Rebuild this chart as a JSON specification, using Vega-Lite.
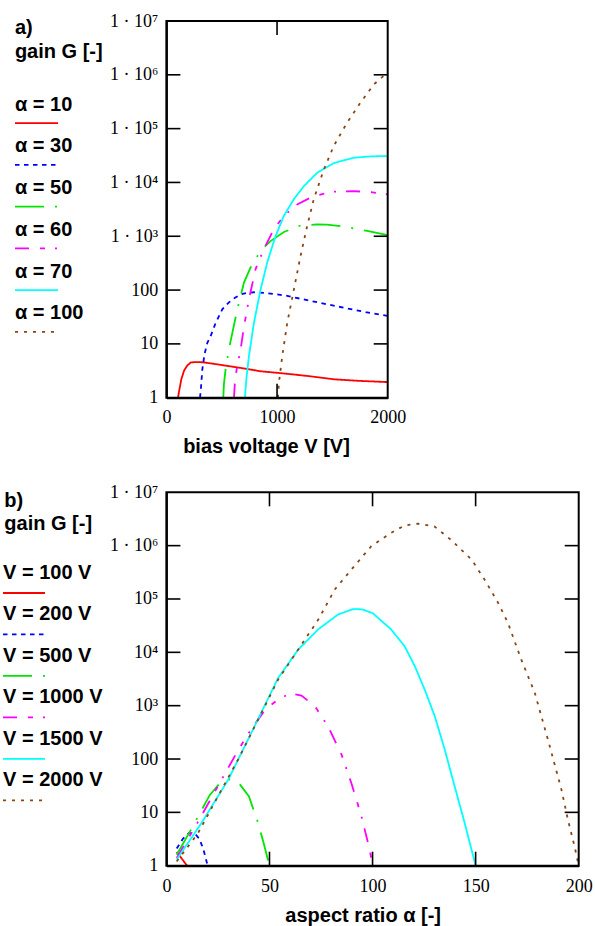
{
"$schema": "https://vega.github.io/schema/vega-lite/v6.json",
"background": "white",
"padding": {"left": 2, "top": 12, "right": 2, "bottom": 1},
"bounds": "flush",
"columns": 2,
"spacing": {"row": 94.3, "column": 103.4},
"resolve": {"scale": {"x": "independent", "y": "independent", "color": "independent", "strokeDash": "independent"}},
"config": {
  "view": {"stroke": null},
  "axis": {"grid": false, "domainColor": "black", "domainWidth": 2, "ticks": false, "labelFont": "Liberation Serif", "labelFontSize": 18, "labelColor": "black", "labelFlush": false, "labelOverlap": false, "titleFont": "Liberation Sans", "titleFontSize": 20, "titleFontWeight": "bold", "titleColor": "black"}
},
"datasets": {
  "legA": [{"series": "α = 10"}, {"series": "α = 30"}, {"series": "α = 50"}, {"series": "α = 60"}, {"series": "α = 70"}, {"series": "α = 100"}],
  "legB": [{"series": "V = 100 V"}, {"series": "V = 200 V"}, {"series": "V = 500 V"}, {"series": "V = 1000 V"}, {"series": "V = 1500 V"}, {"series": "V = 2000 V"}],
  "decades": [{"G": 10}, {"G": 100}, {"G": 1000}, {"G": 10000}, {"G": 100000}, {"G": 1000000}],
  "ticksAx": [{"V": 1000, "Gtop": 9999990, "Gbottom": 1}],
  "ticksBx": [{"alpha": 50, "Gtop": 9999990, "Gbottom": 1}, {"alpha": 100, "Gtop": 9999990, "Gbottom": 1}, {"alpha": 150, "Gtop": 9999990, "Gbottom": 1}],
  "boxA": [{"V0": 0, "V1": 2000, "G0": 1, "G1": 9999990}],
  "boxB": [{"a0": 0, "a1": 200, "G0": 1, "G1": 9999990}],
  "a": [
    {"series": "α = 10", "V": 105, "G": 1}, {"series": "α = 10", "V": 114, "G": 1.3}, {"series": "α = 10", "V": 135, "G": 2.2}, {"series": "α = 10", "V": 160, "G": 3.2}, {"series": "α = 10", "V": 190, "G": 4.0}, {"series": "α = 10", "V": 220, "G": 4.5}, {"series": "α = 10", "V": 260, "G": 4.6}, {"series": "α = 10", "V": 330, "G": 4.55}, {"series": "α = 10", "V": 450, "G": 4.2}, {"series": "α = 10", "V": 550, "G": 3.9}, {"series": "α = 10", "V": 700, "G": 3.5}, {"series": "α = 10", "V": 851, "G": 3.1}, {"series": "α = 10", "V": 1000, "G": 2.9}, {"series": "α = 10", "V": 1152, "G": 2.7}, {"series": "α = 10", "V": 1300, "G": 2.5}, {"series": "α = 10", "V": 1513, "G": 2.2}, {"series": "α = 10", "V": 1750, "G": 2.05}, {"series": "α = 10", "V": 2000, "G": 1.95},
    {"series": "α = 30", "V": 304, "G": 1}, {"series": "α = 30", "V": 312, "G": 1.5}, {"series": "α = 30", "V": 325, "G": 3.4}, {"series": "α = 30", "V": 345, "G": 6.5}, {"series": "α = 30", "V": 370, "G": 10.5}, {"series": "α = 30", "V": 400, "G": 14}, {"series": "α = 30", "V": 445, "G": 24.5}, {"series": "α = 30", "V": 505, "G": 44}, {"series": "α = 30", "V": 565, "G": 59}, {"series": "α = 30", "V": 620, "G": 72}, {"series": "α = 30", "V": 670, "G": 83}, {"series": "α = 30", "V": 730, "G": 89}, {"series": "α = 30", "V": 791, "G": 91}, {"series": "α = 30", "V": 881, "G": 89}, {"series": "α = 30", "V": 1000, "G": 83}, {"series": "α = 30", "V": 1092, "G": 78}, {"series": "α = 30", "V": 1302, "G": 63}, {"series": "α = 30", "V": 1603, "G": 47}, {"series": "α = 30", "V": 1800, "G": 39}, {"series": "α = 30", "V": 2000, "G": 33},
    {"series": "α = 50", "V": 514, "G": 1}, {"series": "α = 50", "V": 520, "G": 1.8}, {"series": "α = 50", "V": 535, "G": 3.4}, {"series": "α = 50", "V": 565, "G": 8}, {"series": "α = 50", "V": 596, "G": 16}, {"series": "α = 50", "V": 641, "G": 44}, {"series": "α = 50", "V": 701, "G": 138}, {"series": "α = 50", "V": 761, "G": 263}, {"series": "α = 50", "V": 851, "G": 537}, {"series": "α = 50", "V": 941, "G": 813}, {"series": "α = 50", "V": 1062, "G": 1200}, {"series": "α = 50", "V": 1212, "G": 1585}, {"series": "α = 50", "V": 1362, "G": 1660}, {"series": "α = 50", "V": 1450, "G": 1650}, {"series": "α = 50", "V": 1603, "G": 1510}, {"series": "α = 50", "V": 1814, "G": 1260}, {"series": "α = 50", "V": 2000, "G": 1050},
    {"series": "α = 60", "V": 611, "G": 1}, {"series": "α = 60", "V": 618, "G": 1.8}, {"series": "α = 60", "V": 635, "G": 3.4}, {"series": "α = 60", "V": 671, "G": 8}, {"series": "α = 60", "V": 701, "G": 21}, {"series": "α = 60", "V": 746, "G": 68}, {"series": "α = 60", "V": 806, "G": 245}, {"series": "α = 60", "V": 881, "G": 575}, {"series": "α = 60", "V": 971, "G": 1350}, {"series": "α = 60", "V": 1062, "G": 2400}, {"series": "α = 60", "V": 1182, "G": 3900}, {"series": "α = 60", "V": 1332, "G": 5600}, {"series": "α = 60", "V": 1513, "G": 6760}, {"series": "α = 60", "V": 1693, "G": 6900}, {"series": "α = 60", "V": 1850, "G": 6600}, {"series": "α = 60", "V": 2000, "G": 6000},
    {"series": "α = 70", "V": 710, "G": 1}, {"series": "α = 70", "V": 716, "G": 1.5}, {"series": "α = 70", "V": 725, "G": 2.5}, {"series": "α = 70", "V": 746, "G": 5.9}, {"series": "α = 70", "V": 791, "G": 24.5}, {"series": "α = 70", "V": 851, "G": 102}, {"series": "α = 70", "V": 911, "G": 324}, {"series": "α = 70", "V": 986, "G": 1000}, {"series": "α = 70", "V": 1062, "G": 2400}, {"series": "α = 70", "V": 1152, "G": 4900}, {"series": "α = 70", "V": 1242, "G": 8500}, {"series": "α = 70", "V": 1362, "G": 15100}, {"series": "α = 70", "V": 1513, "G": 22900}, {"series": "α = 70", "V": 1693, "G": 28800}, {"series": "α = 70", "V": 1850, "G": 30500}, {"series": "α = 70", "V": 2000, "G": 31000},
    {"series": "α = 100", "V": 1008, "G": 1}, {"series": "α = 100", "V": 1017, "G": 1.9}, {"series": "α = 100", "V": 1047, "G": 5.9}, {"series": "α = 100", "V": 1092, "G": 24.5}, {"series": "α = 100", "V": 1152, "G": 102}, {"series": "α = 100", "V": 1212, "G": 427}, {"series": "α = 100", "V": 1272, "G": 1550}, {"series": "α = 100", "V": 1332, "G": 4900}, {"series": "α = 100", "V": 1423, "G": 17400}, {"series": "α = 100", "V": 1513, "G": 47900}, {"series": "α = 100", "V": 1633, "G": 129000}, {"series": "α = 100", "V": 1753, "G": 302000}, {"series": "α = 100", "V": 1874, "G": 661000}, {"series": "α = 100", "V": 1979, "G": 1020000}, {"series": "α = 100", "V": 2000, "G": 1050000}
  ],
  "b": [
    {"series": "V = 100 V", "alpha": 5, "G": 1.8}, {"series": "V = 100 V", "alpha": 7.5, "G": 1.35}, {"series": "V = 100 V", "alpha": 10, "G": 1},
    {"series": "V = 200 V", "alpha": 5, "G": 2.1}, {"series": "V = 200 V", "alpha": 8, "G": 3.2}, {"series": "V = 200 V", "alpha": 11, "G": 4.1}, {"series": "V = 200 V", "alpha": 14, "G": 3.9}, {"series": "V = 200 V", "alpha": 16, "G": 3.2}, {"series": "V = 200 V", "alpha": 18, "G": 2.0}, {"series": "V = 200 V", "alpha": 20, "G": 1},
    {"series": "V = 500 V", "alpha": 5, "G": 1.6}, {"series": "V = 500 V", "alpha": 12, "G": 4.8}, {"series": "V = 500 V", "alpha": 21, "G": 21}, {"series": "V = 500 V", "alpha": 25, "G": 32}, {"series": "V = 500 V", "alpha": 30, "G": 42}, {"series": "V = 500 V", "alpha": 35, "G": 36}, {"series": "V = 500 V", "alpha": 40, "G": 20}, {"series": "V = 500 V", "alpha": 44.5, "G": 6.3}, {"series": "V = 500 V", "alpha": 47, "G": 2.8}, {"series": "V = 500 V", "alpha": 50, "G": 1},
    {"series": "V = 1000 V", "alpha": 5, "G": 1.4}, {"series": "V = 1000 V", "alpha": 15, "G": 6.3}, {"series": "V = 1000 V", "alpha": 25, "G": 31}, {"series": "V = 1000 V", "alpha": 35, "G": 151}, {"series": "V = 1000 V", "alpha": 41, "G": 355}, {"series": "V = 1000 V", "alpha": 48, "G": 850}, {"series": "V = 1000 V", "alpha": 54, "G": 1290}, {"series": "V = 1000 V", "alpha": 60, "G": 1700}, {"series": "V = 1000 V", "alpha": 65.5, "G": 1550}, {"series": "V = 1000 V", "alpha": 72, "G": 980}, {"series": "V = 1000 V", "alpha": 78.4, "G": 410}, {"series": "V = 1000 V", "alpha": 85, "G": 120}, {"series": "V = 1000 V", "alpha": 89.7, "G": 35.5}, {"series": "V = 1000 V", "alpha": 94.6, "G": 8.5}, {"series": "V = 1000 V", "alpha": 98.6, "G": 2}, {"series": "V = 1000 V", "alpha": 100, "G": 1},
    {"series": "V = 1500 V", "alpha": 5, "G": 1.3}, {"series": "V = 1500 V", "alpha": 17, "G": 6.3}, {"series": "V = 1500 V", "alpha": 30, "G": 41}, {"series": "V = 1500 V", "alpha": 41.2, "G": 309}, {"series": "V = 1500 V", "alpha": 54.2, "G": 3300}, {"series": "V = 1500 V", "alpha": 63.9, "G": 11200}, {"series": "V = 1500 V", "alpha": 73.6, "G": 26900}, {"series": "V = 1500 V", "alpha": 83.3, "G": 51300}, {"series": "V = 1500 V", "alpha": 90.5, "G": 64600}, {"series": "V = 1500 V", "alpha": 95, "G": 64000}, {"series": "V = 1500 V", "alpha": 100.2, "G": 53700}, {"series": "V = 1500 V", "alpha": 109, "G": 26900}, {"series": "V = 1500 V", "alpha": 115.6, "G": 12900}, {"series": "V = 1500 V", "alpha": 120.5, "G": 5500}, {"series": "V = 1500 V", "alpha": 125.3, "G": 2000}, {"series": "V = 1500 V", "alpha": 130.2, "G": 630}, {"series": "V = 1500 V", "alpha": 135, "G": 151}, {"series": "V = 1500 V", "alpha": 139.8, "G": 31}, {"series": "V = 1500 V", "alpha": 144.7, "G": 6.3}, {"series": "V = 1500 V", "alpha": 148, "G": 2}, {"series": "V = 1500 V", "alpha": 150, "G": 1},
    {"series": "V = 2000 V", "alpha": 5, "G": 1.2}, {"series": "V = 2000 V", "alpha": 15.4, "G": 4.1}, {"series": "V = 2000 V", "alpha": 25, "G": 20}, {"series": "V = 2000 V", "alpha": 34.8, "G": 98}, {"series": "V = 2000 V", "alpha": 44.5, "G": 550}, {"series": "V = 2000 V", "alpha": 54.2, "G": 3090}, {"series": "V = 2000 V", "alpha": 63.9, "G": 11200}, {"series": "V = 2000 V", "alpha": 73.6, "G": 40700}, {"series": "V = 2000 V", "alpha": 81.7, "G": 151000}, {"series": "V = 2000 V", "alpha": 89.7, "G": 355000}, {"series": "V = 2000 V", "alpha": 99.4, "G": 977000}, {"series": "V = 2000 V", "alpha": 109, "G": 1740000}, {"series": "V = 2000 V", "alpha": 115.6, "G": 2400000}, {"series": "V = 2000 V", "alpha": 122, "G": 2570000}, {"series": "V = 2000 V", "alpha": 130, "G": 2290000}, {"series": "V = 2000 V", "alpha": 138, "G": 1290000}, {"series": "V = 2000 V", "alpha": 148, "G": 550000}, {"series": "V = 2000 V", "alpha": 154.4, "G": 229000}, {"series": "V = 2000 V", "alpha": 160.9, "G": 85000}, {"series": "V = 2000 V", "alpha": 165.7, "G": 35500}, {"series": "V = 2000 V", "alpha": 172.2, "G": 7200}, {"series": "V = 2000 V", "alpha": 178.7, "G": 1740}, {"series": "V = 2000 V", "alpha": 185.1, "G": 229}, {"series": "V = 2000 V", "alpha": 191.6, "G": 27}, {"series": "V = 2000 V", "alpha": 194.8, "G": 7.2}, {"series": "V = 2000 V", "alpha": 198, "G": 2.3}, {"series": "V = 2000 V", "alpha": 200, "G": 1}
  ]
},
"concat": [
  {
    "width": 60, "height": 376.7,
    "data": {"name": "legA"},
    "layer": [
      {"mark": {"type": "text", "align": "left", "baseline": "alphabetic", "font": "Liberation Sans", "fontSize": 20, "fontWeight": "bold", "color": "black"},
       "encoding": {
         "x": {"datum": 12, "type": "quantitative", "scale": {"domain": [0, 60], "nice": false, "zero": false}, "axis": null},
         "y": {"field": "series", "type": "nominal", "scale": {"type": "point", "padding": 0, "domain": ["α = 10", "α = 30", "α = 50", "α = 60", "α = 70", "α = 100"], "range": [89.7, 298.4]}, "axis": null},
         "text": {"field": "series"}
       }},
      {"mark": {"type": "rule", "strokeWidth": 1.8, "yOffset": 12.5},
       "encoding": {
         "x": {"datum": 12, "type": "quantitative", "axis": null},
         "x2": {"datum": 55},
         "y": {"field": "series", "type": "nominal", "axis": null},
         "color": {"field": "series", "type": "nominal", "legend": null, "scale": {"domain": ["α = 10", "α = 30", "α = 50", "α = 60", "α = 70", "α = 100"], "range": ["#ff0000", "#0000ff", "#00e600", "#ff00ff", "#00ffff", "#8b4513"]}},
         "strokeDash": {"field": "series", "type": "nominal", "legend": null, "scale": {"domain": ["α = 10", "α = 30", "α = 50", "α = 60", "α = 70", "α = 100"], "range": [[1, 0], [4.5, 4.5], [29, 11, 2, 11], [14, 11, 5, 10, 2, 10], [1, 0], [3, 6]]}}
       }}
    ]
  },
  {
    "width": 221.3, "height": 376.7,
    "layer": [
      {"data": {"name": "a"},
       "mark": {"type": "line", "strokeWidth": 1.8},
       "encoding": {
         "x": {"field": "V", "type": "quantitative", "scale": {"domain": [0, 2000], "nice": false, "zero": false},
               "axis": {"orient": "bottom", "values": [0, 1000, 2000], "format": "d", "title": "bias voltage V [V]", "titleX": 99.6, "titleY": 55, "titleBaseline": "alphabetic", "titleAlign": "center", "labelPadding": 25, "labelBaseline": "alphabetic", "labelDx": 3, "labelFont": "Liberation Serif", "labelFontSize": 18}},
         "y": {"field": "G", "type": "quantitative", "scale": {"type": "log", "domain": [1, 10000000], "nice": false},
               "axis": {"orient": "left", "values": [1, 10, 100, 1000, 10000, 100000, 1000000, 10000000],
                        "labelExpr": "datum.value > 5e6 ? '1 · 10⁷\u00a0\u00a0' : datum.value > 5e5 ? '1 · 10⁶\u00a0\u00a0' : datum.value > 5e4 ? '1 · 10⁵\u00a0\u00a0' : datum.value > 5e3 ? '1 · 10⁴\u00a0\u00a0' : datum.value > 500 ? '1 · 10³\u00a0\u00a0' : datum.value > 50 ? '100' : datum.value > 5 ? '10' : '1'",
                        "title": ["a)", "gain G [-]"], "titleAngle": 0, "titleX": -152, "titleY": 12.4, "titleAlign": "left", "titleBaseline": "alphabetic", "titleLineHeight": 24.3,
                        "labelPadding": 8.7, "labelBaseline": "middle", "labelAlign": "right", "labelDy": 2.5, "labelFont": "Liberation Serif", "labelFontSize": 18}},
         "color": {"field": "series", "type": "nominal", "legend": null, "scale": {"domain": ["α = 10", "α = 30", "α = 50", "α = 60", "α = 70", "α = 100"], "range": ["#ff0000", "#0000ff", "#00e600", "#ff00ff", "#00ffff", "#8b4513"]}},
         "strokeDash": {"field": "series", "type": "nominal", "legend": null, "scale": {"domain": ["α = 10", "α = 30", "α = 50", "α = 60", "α = 70", "α = 100"], "range": [[1, 0], [4.5, 4.5], [29, 11, 2, 11], [14, 11, 5, 10, 2, 10], [1, 0], [3, 6]]}}
       }},
      {"data": {"name": "boxA"},
       "mark": {"type": "rect", "fill": null, "fillOpacity": 0, "stroke": "black", "strokeWidth": 2},
       "encoding": {"x": {"field": "V0", "type": "quantitative"}, "x2": {"field": "V1"}, "y": {"field": "G0", "type": "quantitative"}, "y2": {"field": "G1"}}},
      {"data": {"name": "decades"},
       "mark": {"type": "rule", "color": "black", "strokeWidth": 1.6, "x2Offset": 14},
       "encoding": {"y": {"field": "G", "type": "quantitative"}, "x": {"datum": 0, "type": "quantitative"}, "x2": {"datum": 0}}},
      {"data": {"name": "decades"},
       "mark": {"type": "rule", "color": "black", "strokeWidth": 1.6, "x2Offset": -14},
       "encoding": {"y": {"field": "G", "type": "quantitative"}, "x": {"datum": 2000, "type": "quantitative"}, "x2": {"datum": 2000}}},
      {"data": {"name": "ticksAx"},
       "mark": {"type": "rule", "color": "black", "strokeWidth": 1.6, "y2Offset": 14},
       "encoding": {"x": {"field": "V", "type": "quantitative"}, "y": {"field": "Gtop", "type": "quantitative"}, "y2": {"field": "Gtop"}}},
      {"data": {"name": "ticksAx"},
       "mark": {"type": "rule", "color": "black", "strokeWidth": 1.6, "y2Offset": -14},
       "encoding": {"x": {"field": "V", "type": "quantitative"}, "y": {"field": "Gbottom", "type": "quantitative"}, "y2": {"field": "Gbottom"}}}
    ]
  },
  {
    "width": 60, "height": 373.4,
    "data": {"name": "legB"},
    "layer": [
      {"mark": {"type": "text", "align": "left", "baseline": "alphabetic", "font": "Liberation Sans", "fontSize": 20, "fontWeight": "bold", "color": "black"},
       "encoding": {
         "x": {"datum": 0, "type": "quantitative", "scale": {"domain": [0, 60], "nice": false, "zero": false}, "axis": null},
         "y": {"field": "series", "type": "nominal", "scale": {"type": "point", "padding": 0, "domain": ["V = 100 V", "V = 200 V", "V = 500 V", "V = 1000 V", "V = 1500 V", "V = 2000 V"], "range": [86.7, 294]}, "axis": null},
         "text": {"field": "series"}
       }},
      {"mark": {"type": "rule", "strokeWidth": 1.8, "yOffset": 14},
       "encoding": {
         "x": {"datum": 0, "type": "quantitative", "axis": null},
         "x2": {"datum": 42},
         "y": {"field": "series", "type": "nominal", "axis": null},
         "color": {"field": "series", "type": "nominal", "legend": null, "scale": {"domain": ["V = 100 V", "V = 200 V", "V = 500 V", "V = 1000 V", "V = 1500 V", "V = 2000 V"], "range": ["#ff0000", "#0000ff", "#00e600", "#ff00ff", "#00ffff", "#8b4513"]}},
         "strokeDash": {"field": "series", "type": "nominal", "legend": null, "scale": {"domain": ["V = 100 V", "V = 200 V", "V = 500 V", "V = 1000 V", "V = 1500 V", "V = 2000 V"], "range": [[1, 0], [4.5, 4.5], [29, 11, 2, 11], [14, 11, 5, 10, 2, 10], [1, 0], [3, 6]]}}
       }}
    ]
  },
  {
    "width": 412.3, "height": 373.4,
    "layer": [
      {"data": {"name": "b"},
       "mark": {"type": "line", "strokeWidth": 1.8},
       "encoding": {
         "x": {"field": "alpha", "type": "quantitative", "scale": {"domain": [0, 200], "nice": false, "zero": false},
               "axis": {"orient": "bottom", "values": [0, 50, 100, 150, 200], "format": "d", "title": "aspect ratio α [-]", "titleX": 196.3, "titleY": 56.3, "titleBaseline": "alphabetic", "titleAlign": "center", "labelPadding": 25.5, "labelBaseline": "alphabetic", "labelDx": 3, "labelFont": "Liberation Serif", "labelFontSize": 18}},
         "y": {"field": "G", "type": "quantitative", "scale": {"type": "log", "domain": [1, 10000000], "nice": false},
               "axis": {"orient": "left", "values": [1, 10, 100, 1000, 10000, 100000, 1000000, 10000000],
                        "labelExpr": "datum.value > 5e6 ? '1 · 10⁷\u00a0\u00a0' : datum.value > 5e5 ? '1 · 10⁶\u00a0\u00a0' : datum.value > 5e4 ? '10⁵\u00a0\u00a0\u00a0' : datum.value > 5e3 ? '10⁴\u00a0\u00a0\u00a0' : datum.value > 500 ? '10³\u00a0\u00a0\u00a0' : datum.value > 50 ? '100' : datum.value > 5 ? '10' : '1'",
                        "title": ["b)", "gain G [-]"], "titleAngle": 0, "titleX": -162.6, "titleY": 14, "titleAlign": "left", "titleBaseline": "alphabetic", "titleLineHeight": 23.4,
                        "labelPadding": 8.7, "labelBaseline": "middle", "labelAlign": "right", "labelDy": 2.5, "labelFont": "Liberation Serif", "labelFontSize": 18}},
         "color": {"field": "series", "type": "nominal", "legend": null, "scale": {"domain": ["V = 100 V", "V = 200 V", "V = 500 V", "V = 1000 V", "V = 1500 V", "V = 2000 V"], "range": ["#ff0000", "#0000ff", "#00e600", "#ff00ff", "#00ffff", "#8b4513"]}},
         "strokeDash": {"field": "series", "type": "nominal", "legend": null, "scale": {"domain": ["V = 100 V", "V = 200 V", "V = 500 V", "V = 1000 V", "V = 1500 V", "V = 2000 V"], "range": [[1, 0], [4.5, 4.5], [29, 11, 2, 11], [14, 11, 5, 10, 2, 10], [1, 0], [3, 6]]}}
       }},
      {"data": {"name": "boxB"},
       "mark": {"type": "rect", "fill": null, "fillOpacity": 0, "stroke": "black", "strokeWidth": 2},
       "encoding": {"x": {"field": "a0", "type": "quantitative"}, "x2": {"field": "a1"}, "y": {"field": "G0", "type": "quantitative"}, "y2": {"field": "G1"}}},
      {"data": {"name": "decades"},
       "mark": {"type": "rule", "color": "black", "strokeWidth": 1.6, "x2Offset": 14},
       "encoding": {"y": {"field": "G", "type": "quantitative"}, "x": {"datum": 0, "type": "quantitative"}, "x2": {"datum": 0}}},
      {"data": {"name": "decades"},
       "mark": {"type": "rule", "color": "black", "strokeWidth": 1.6, "x2Offset": -14},
       "encoding": {"y": {"field": "G", "type": "quantitative"}, "x": {"datum": 200, "type": "quantitative"}, "x2": {"datum": 200}}},
      {"data": {"name": "ticksBx"},
       "mark": {"type": "rule", "color": "black", "strokeWidth": 1.6, "y2Offset": 14},
       "encoding": {"x": {"field": "alpha", "type": "quantitative"}, "y": {"field": "Gtop", "type": "quantitative"}, "y2": {"field": "Gtop"}}},
      {"data": {"name": "ticksBx"},
       "mark": {"type": "rule", "color": "black", "strokeWidth": 1.6, "y2Offset": -14},
       "encoding": {"x": {"field": "alpha", "type": "quantitative"}, "y": {"field": "Gbottom", "type": "quantitative"}, "y2": {"field": "Gbottom"}}}
    ]
  }
]
}
